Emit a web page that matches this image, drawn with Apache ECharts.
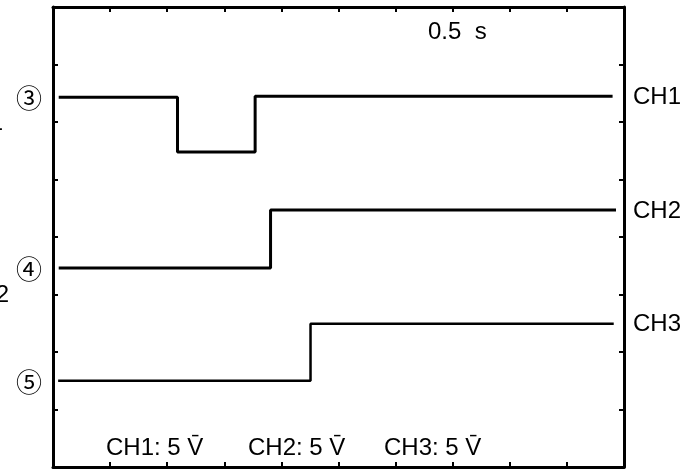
<!DOCTYPE html>
<html><head><meta charset="utf-8">
<script src="https://cdn.jsdelivr.net/npm/echarts@6/dist/echarts.min.js"></script>
<style>html,body{margin:0;padding:0;background:#fff}#c{width:682px;height:471px}</style>
</head><body><div id="c"></div>
<script>
// time axis in divisions (0.5 s/div), level axis in divisions
const xDivisions = [0, 10];
const yDivisions = [0, 8];
const channelNames = ['CH1', 'CH2', 'CH3'];
const channelMarks = ['③', '④', '⑤'];
const ch1 = [[0.1, 6.43], [2.18, 6.43], [2.18, 5.48], [3.54, 5.48], [3.54, 6.45], [9.8, 6.45]];
const ch2 = [[0.1, 3.46], [3.81, 3.46], [3.81, 4.47], [9.86, 4.47]];
const ch3 = [[0.09, 1.50], [4.51, 1.50], [4.51, 2.49], [9.82, 2.49]];
const timebase = '0.5  s';
const scaleTexts = ['CH1: 5 V\u0304', 'CH2: 5 V\u0304', 'CH3: 5 V\u0304'];
const leftFragments = ['1', '2'];

const FONT = '"Liberation Sans", Arial, "DejaVu Sans", sans-serif';
const chart = echarts.init(document.getElementById('c'), null, {renderer: 'canvas'});
const axisCommon = {
  type: 'value', interval: 1,
  axisLine: {show: true, onZero: false, lineStyle: {color: '#000', width: 3}},
  axisTick: {show: true, inside: true, length: 5, lineStyle: {color: '#000', width: 2}},
  axisLabel: {show: false}, splitLine: {show: false}
};
const series = [ch1, ch2, ch3].map((d, i) => ({
  type: 'line', name: channelNames[i], data: d, symbol: 'none', animation: false,
  lineStyle: {color: '#000', width: i === 2 ? 2.5 : 3}
}));
chart.setOption({
  animation: false,
  grid: {left: 53, right: 58, top: 7, bottom: 4},
  xAxis: [
    Object.assign({}, axisCommon, {min: xDivisions[0], max: xDivisions[1], position: 'bottom'}),
    Object.assign({}, axisCommon, {min: xDivisions[0], max: xDivisions[1], position: 'top'})
  ],
  yAxis: [
    Object.assign({}, axisCommon, {min: yDivisions[0], max: yDivisions[1], position: 'left'}),
    Object.assign({}, axisCommon, {min: yDivisions[0], max: yDivisions[1], position: 'right'})
  ],
  series: series
});

const data = [ch1, ch2, ch3];
const g = [];
const frameRight = chart.convertToPixel({xAxisIndex: 0}, xDivisions[1]);
const frameLeft = chart.convertToPixel({xAxisIndex: 0}, xDivisions[0]);
data.forEach((d, i) => {
  const first = chart.convertToPixel({xAxisIndex: 0, yAxisIndex: 0}, d[0]);
  const last = chart.convertToPixel({xAxisIndex: 0, yAxisIndex: 0}, d[d.length - 1]);
  g.push({type: 'text', x: frameRight + 9, y: last[1] + 1,
    style: {text: channelNames[i], font: '24px ' + FONT, fill: '#000', textVerticalAlign: 'middle'}});
  g.push({type: 'text', x: frameLeft - 24, y: first[1] + 1,
    style: {text: channelMarks[i], font: '26px "Noto Sans CJK JP", sans-serif', fill: '#000', textAlign: 'center', textVerticalAlign: 'middle'}});
});
g.push({type: 'text', x: 3, y: 123, style: {text: leftFragments[0], font: '24px ' + FONT, fill: '#000', textAlign: 'right', textVerticalAlign: 'middle'}});
g.push({type: 'text', x: 9, y: 295, style: {text: leftFragments[1], font: '24px ' + FONT, fill: '#000', textAlign: 'right', textVerticalAlign: 'middle'}});
g.push({type: 'text', x: 428, y: 32, style: {text: timebase, font: '24px ' + FONT, fill: '#000', textVerticalAlign: 'middle'}});
const scaleX = [106, 248, 384];
scaleTexts.forEach((t, i) => {
  g.push({type: 'text', x: scaleX[i], y: 448, style: {text: t, font: '24px ' + FONT, fill: '#000', textVerticalAlign: 'middle'}});
});
chart.setOption({graphic: g});
</script></body></html>
